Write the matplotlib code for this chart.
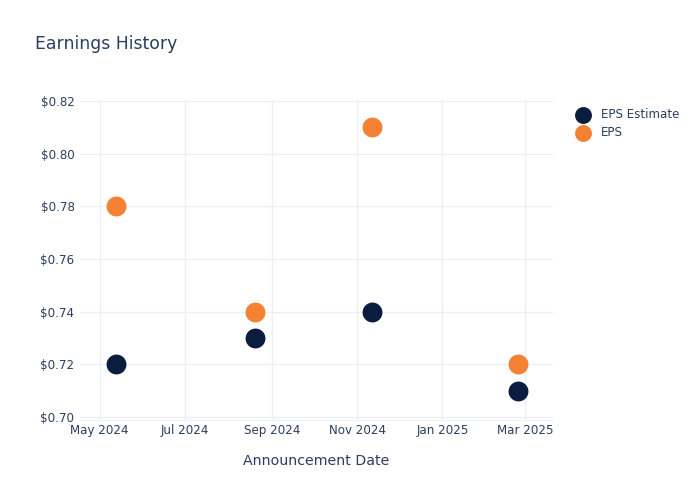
import pandas as pd
import matplotlib.pyplot as plt
import matplotlib.dates as mdates

# Earnings history data
dates = pd.to_datetime(["2024-05-13", "2024-08-20", "2024-11-12", "2025-02-24"])
eps_estimate = [0.72, 0.73, 0.74, 0.71]
eps_actual = [0.78, 0.74, 0.81, 0.72]

navy = "#0b1d3f"
orange = "#f58232"
text_col = "#2a3f5f"
grid_col = "#ebf0f8"

fig = plt.figure(figsize=(7, 5), dpi=100)
ax = fig.add_axes([80 / 700, 80 / 500, 473 / 700, 320 / 500])

ax.scatter(dates, eps_estimate, s=205, color=navy, label="EPS Estimate", zorder=3, linewidths=0)
ax.scatter(dates, eps_actual, s=205, color=orange, label="EPS", zorder=3, linewidths=0)

ax.set_xlim(pd.Timestamp("2024-04-17"), pd.Timestamp("2025-03-21"))
ax.set_ylim(0.6989, 0.8204)
ax.set_yticks([0.70, 0.72, 0.74, 0.76, 0.78, 0.80, 0.82])
ax.yaxis.set_major_formatter(plt.FuncFormatter(lambda v, p: f"${v:.2f}"))
ax.xaxis.set_major_locator(mdates.MonthLocator(bymonth=[1, 3, 5, 7, 9, 11]))
ax.xaxis.set_major_formatter(mdates.DateFormatter("%b %Y"))

ax.grid(True, color=grid_col, linewidth=1)
ax.set_axisbelow(True)
for side in ["top", "right", "left"]:
    ax.spines[side].set_visible(False)
ax.spines["bottom"].set_color(grid_col)
ax.tick_params(axis="both", length=0, labelsize=8.6, colors=text_col, pad=4)
ax.tick_params(axis="x", pad=3)

ax.set_xlabel("Announcement Date", fontsize=10.2, color=text_col, labelpad=12)
fig.text(35 / 700, 1 - 44 / 500, "Earnings History", fontsize=12.4, color=text_col, va="center")

fig.legend(loc="upper left", bbox_to_anchor=(566 / 700, 1 - 103 / 500), frameon=False,
           fontsize=8.6, labelcolor=text_col, handletextpad=0.5, labelspacing=0.45,
           markerscale=0.85, borderaxespad=0)

fig.savefig("out.png", dpi=100)
